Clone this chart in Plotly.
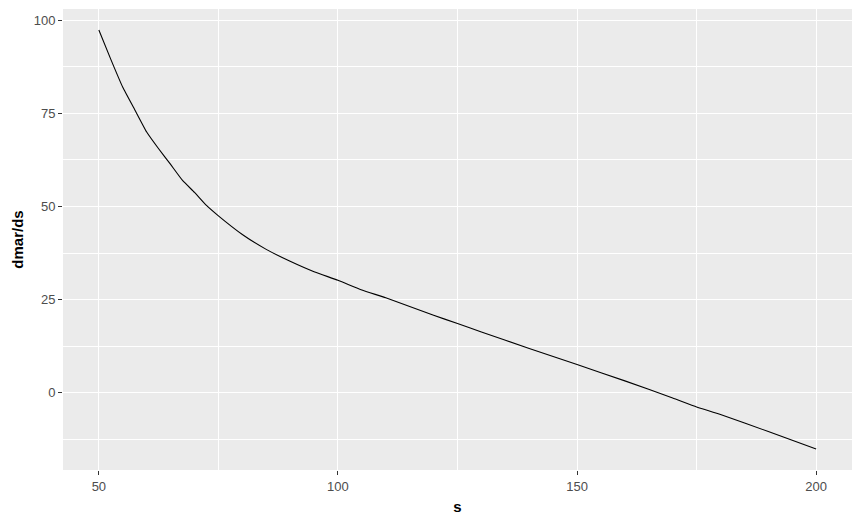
import plotly.graph_objects as go

s_vals = [50, 52.5, 55, 57.5, 60, 62.5, 65, 67.5, 70, 72.5, 75, 80, 85, 90, 95,
          100, 105, 110, 120, 125, 130, 140, 150, 160, 170, 175, 180, 190, 200]
dmar_vals = [97.4, 89.5, 82, 76, 70, 65.5, 61.3, 57, 53.8, 50.3, 47.5, 42.5, 38.5, 35.3, 32.5,
             30.2, 27.6, 25.5, 20.8, 18.6, 16.3, 11.9, 7.6, 3.2, -1.4, -3.8, -5.8, -10.4, -15.1]
x_ticks = [50, 100, 150, 200]
y_ticks = [0, 25, 50, 75, 100]

fig = go.Figure()
fig.add_trace(go.Scatter(x=s_vals, y=dmar_vals, mode="lines", line_shape="spline",
                         line=dict(color="black", width=1.1, smoothing=0.4), hoverinfo="skip"))

xr = [min(s_vals), max(s_vals)]
yr = [min(dmar_vals), max(dmar_vals)]
xpad = (xr[1] - xr[0]) * 0.05
ypad = (yr[1] - yr[0]) * 0.05

axis_common = dict(
    showline=False, zeroline=False, automargin=False,
    gridcolor="white", gridwidth=1.1,
    ticks="outside", ticklen=4, tickwidth=1.1, tickcolor="#333333",
    tickfont=dict(family="Liberation Sans, Arial", size=13, color="#4D4D4D"),
)

fig.update_layout(
    width=854, height=517,
    margin=dict(l=55, r=10, t=1, b=55),
    paper_bgcolor="white", plot_bgcolor="#EBEBEB",
    showlegend=False,
    xaxis=dict(range=[xr[0] - xpad, xr[1] + xpad], tickvals=x_ticks,
               ticktext=[str(v) for v in x_ticks],
               minor=dict(dtick=25, tick0=0, showgrid=True, gridcolor="white", gridwidth=0.55, ticks=""),
               title=dict(text="<b>s</b>", font=dict(family="Liberation Sans, Arial", size=15, color="black"),
                          standoff=8),
               **axis_common),
    yaxis=dict(range=[yr[0] - ypad, yr[1] + ypad], tickvals=y_ticks,
               ticktext=[str(v) for v in y_ticks],
               minor=dict(dtick=25, tick0=12.5, showgrid=True, gridcolor="white", gridwidth=0.55, ticks=""),
               title=dict(text="<b>dmar/ds</b>", font=dict(family="Liberation Sans, Arial", size=15, color="black"),
                          standoff=6),
               **axis_common),
)

fig.write_html("out.html")
